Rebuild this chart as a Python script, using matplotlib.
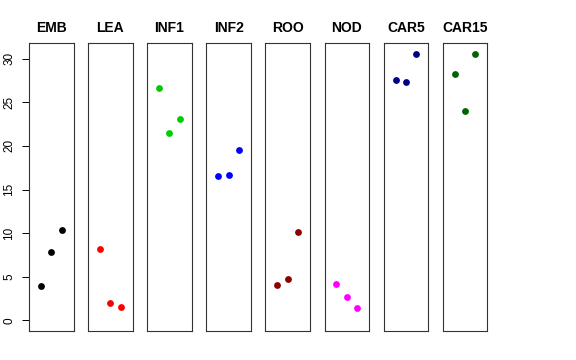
import matplotlib.pyplot as plt

plt.rcParams['font.family'] = ['Liberation Sans', 'DejaVu Sans']

# panel names and colours
groups = ["EMB", "LEA", "INF1", "INF2", "ROO", "NOD", "CAR5", "CAR15"]
colors = ["black", "red", "#00CD00", "blue", "#8B0000", "magenta", "#000080", "#006400"]

# three replicate values per group (x = 1, 2, 3)
reps = [1, 2, 3]
emb = [3.9, 7.83, 10.32]
lea = [8.22, 1.95, 1.53]
inf1 = [26.68, 21.44, 23.05]
inf2 = [16.59, 16.70, 19.49]
roo = [4.05, 4.74, 10.16]
nod = [4.17, 2.68, 1.41]
car5 = [27.52, 27.29, 30.50]
car15 = [28.28, 24.04, 30.54]
values = [emb, lea, inf1, inf2, roo, nod, car5, car15]

ymax = max(max(v) for v in values)
pad = ymax * 0.04

fig = plt.figure(figsize=(5.76, 3.6), dpi=100)
W, H = 576, 360
left0, width, step = 29, 44.5, 59.1
top, bottom = 43.3, 331

for i, (name, col, vals) in enumerate(zip(groups, colors, values)):
    x0 = left0 + i * step
    ax = fig.add_axes([x0 / W, (H - bottom) / H, width / W, (bottom - top) / H])
    ax.scatter(reps, vals, color=col, s=24, zorder=3, linewidths=0)
    ax.set_xlim(-0.16, 4.16)
    ax.set_ylim(-pad, ymax + pad)
    ax.set_xticks([])
    for sp in ax.spines.values():
        sp.set_linewidth(0.8)
        sp.set_color("#333333")
    ax.set_title(name, fontsize=10, fontweight="bold", pad=8)
    if i == 0:
        ax.set_yticks([0, 5, 10, 15, 20, 25, 30])
        ax.tick_params(axis="y", length=5, width=0.7, pad=5, labelsize=8.5)
        for lab in ax.get_yticklabels():
            lab.set_rotation(90)
            lab.set_va("center")
    else:
        ax.set_yticks([])

plt.savefig("out.png", dpi=100)
